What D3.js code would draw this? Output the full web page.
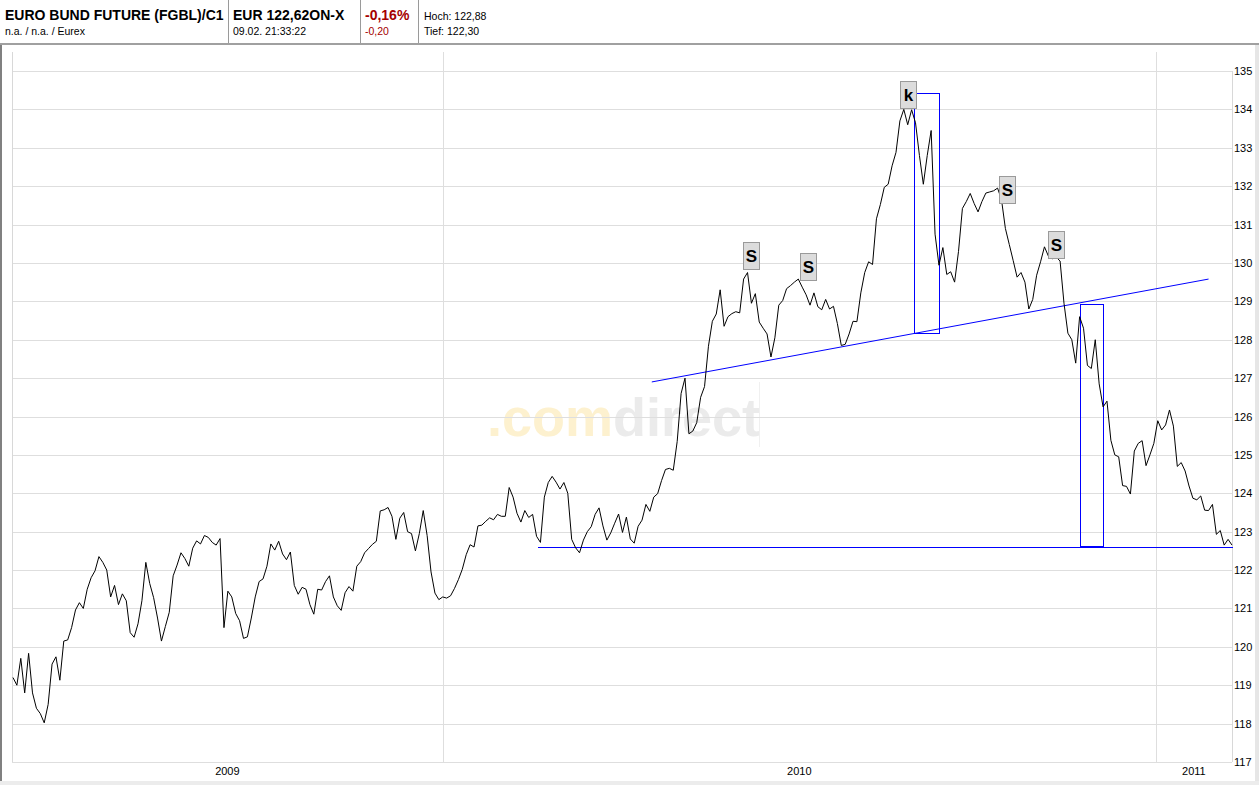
<!DOCTYPE html>
<html><head><meta charset="utf-8">
<script src="https://cdn.jsdelivr.net/npm/d3@7"></script>
<style>
body{margin:0;background:#fff;}
svg{display:block;font-family:"Liberation Sans",Arial,sans-serif;}
</style>
</head><body>
<svg id="c" width="1259" height="785"></svg>
<script>
// ---------------- DATA ----------------
const startDate = "2009-05-26T00:00Z";   // first sample
const stepDays = 2;                        // sampling interval of the series
const prices = [
119.2,119.0,119.7,118.8,119.83,118.8,118.4,118.26,118.02,118.5,
119.55,119.74,119.13,120.15,120.18,120.5,120.96,121.15,121.0,121.5,
121.8,121.98,122.35,122.2,122.0,121.3,121.6,121.1,121.38,121.2,
120.37,120.25,120.6,121.2,122.2,121.65,121.28,120.75,120.15,120.53,
120.9,121.85,122.13,122.45,122.3,122.1,122.57,122.76,122.68,122.9,
122.85,122.72,122.65,122.82,120.5,121.45,121.3,120.87,120.68,120.22,
120.26,120.75,121.3,121.7,121.77,122.1,122.68,122.52,122.75,122.42,
122.27,122.47,121.6,121.37,121.55,121.5,121.1,120.85,121.5,121.48,
121.7,121.85,121.3,121.07,120.95,121.41,121.57,121.45,122.1,122.22,
122.45,122.56,122.67,122.75,123.54,123.57,123.63,123.4,122.8,123.35,
123.5,123.0,122.95,122.5,122.95,123.55,122.9,121.95,121.4,121.23,
121.3,121.27,121.33,121.52,121.75,122.02,122.4,122.66,122.6,123.15,
123.17,123.27,123.36,123.31,123.45,123.4,123.4,124.15,123.9,123.48,
123.25,123.55,123.37,123.45,122.88,122.72,123.9,124.28,124.44,124.29,
124.11,124.28,124.0,122.8,122.58,122.45,122.78,123.0,123.13,123.45,
123.62,123.15,122.78,122.97,123.22,123.46,122.98,123.38,122.81,122.7,
123.14,123.3,123.71,123.53,123.9,123.99,124.33,124.62,124.65,124.6,
125.35,126.6,127.0,125.55,125.62,125.84,126.5,126.78,127.83,128.48,
128.67,129.3,128.35,128.6,128.68,128.73,128.7,129.58,129.75,128.95,
129.2,128.46,128.3,128.15,127.55,128.05,128.9,129.02,129.33,129.41,
129.5,129.58,129.37,129.17,128.9,129.22,128.86,128.78,129.05,128.8,
128.87,128.42,127.85,127.88,128.15,128.48,128.47,129.22,129.75,130.03,
129.96,131.15,131.52,131.97,132.05,132.53,132.88,133.7,134.0,133.6,
133.99,133.65,132.8,132.05,132.8,133.45,130.75,129.94,130.4,129.7,
129.77,129.5,130.3,131.42,131.6,131.81,131.55,131.33,131.6,131.82,
131.85,131.88,131.95,131.65,130.9,130.48,130.06,129.63,129.75,129.5,
128.8,129.05,129.68,130.03,130.42,130.18,130.11,130.15,130.05,128.95,
128.17,128.0,127.39,128.6,128.3,127.33,127.25,128.0,126.85,126.25,
126.4,125.38,125.0,124.95,124.2,124.18,123.98,125.1,125.3,125.37,
124.72,125.0,125.3,125.89,125.65,125.78,126.17,125.75,124.7,124.8,
124.58,124.19,123.87,123.83,123.93,123.56,123.55,123.71,122.93,123.03,
122.65,122.8,122.65
];
const xDomain = ["2009-05-25T12:00Z", "2011-02-09T00:00Z"];
const yDomain = [117, 135];
const yTicks = [117,118,119,120,121,122,123,124,125,126,127,128,129,130,131,132,133,134,135];
const yearLabels = ["2009", "2010", "2011"];
const yearBounds = ["2009-05-25T12:00Z", "2010-01-01T00:00Z", "2011-01-01T00:00Z", "2011-02-09T00:00Z"];

// chart annotations (trend lines, target boxes, markers)
const neckline = [["2010-04-18T00:00Z", 126.90], ["2011-01-28T00:00Z", 129.58]];
const supportLine = [["2010-02-19T00:00Z", 122.60], ["2011-02-09T00:00Z", 122.60]];
const targetBoxes = [
  ["2010-08-30T00:00Z", "2010-09-12T00:00Z", 128.17, 134.42],
  ["2010-11-23T00:00Z", "2010-12-05T00:00Z", 122.63, 128.93]
];
const markers = [
  ["S", "2010-06-08T00:00Z", 129.82],
  ["S", "2010-07-07T00:00Z", 129.54],
  ["k", "2010-08-27T00:00Z", 134.00],
  ["S", "2010-10-17T00:00Z", 131.54],
  ["S", "2010-11-11T00:00Z", 130.10]
];

// header texts
const title = "EURO BUND FUTURE (FGBL)/C1";
const subTitle = "n.a. / n.a. / Eurex";
const lastPrice = "EUR 122,62ON-X";
const timeStamp = "09.02. 21:33:22";
const changePct = "-0,16%";
const changeAbs = "-0,20";
const highText = "Hoch: 122,88";
const lowText = "Tief: 122,30";

// ---------------- DRAW ----------------
const W = 1259, H = 785;
const plot = {left: 12, right: 1232, top: 52, bottom: 762};
const svg = d3.select("#c");
const P = d3.isoParse;

const x = d3.scaleUtc().domain(xDomain.map(P)).range([plot.left, plot.right]);
const y = d3.scaleLinear().domain(yDomain).range([762, 71]);
const px = v => Math.round(v) + 0.5;

const series = prices.map((v, i) => ({date: d3.utcDay.offset(P(startDate), i * stepDays), value: v}));

svg.append("rect").attr("width", W).attr("height", H).attr("fill", "#fff");

// header
const hdr = svg.append("g");
hdr.append("text").attr("x", 5).attr("y", 20).attr("font-size", 14).attr("font-weight", "bold").attr("fill", "#000").text(title);
hdr.append("text").attr("x", 5).attr("y", 35).attr("font-size", 10.5).attr("fill", "#000").text(subTitle);
hdr.append("text").attr("x", 233).attr("y", 20).attr("font-size", 14).attr("font-weight", "bold").attr("fill", "#000").text(lastPrice);
hdr.append("text").attr("x", 233).attr("y", 35).attr("font-size", 10.5).attr("fill", "#000").text(timeStamp);
hdr.append("text").attr("x", 365).attr("y", 20).attr("font-size", 14).attr("font-weight", "bold").attr("fill", "#a50000").text(changePct);
hdr.append("text").attr("x", 365).attr("y", 35).attr("font-size", 10.5).attr("fill", "#a50000").text(changeAbs);
hdr.append("text").attr("x", 424).attr("y", 20).attr("font-size", 10.5).attr("fill", "#000").text(highText);
hdr.append("text").attr("x", 424).attr("y", 35).attr("font-size", 10.5).attr("fill", "#000").text(lowText);
[228, 360, 418].forEach(sx => hdr.append("rect").attr("x", sx).attr("y", 0).attr("width", 1).attr("height", 43).attr("fill", "#9a9a9a"));
svg.append("rect").attr("x", 0).attr("y", 43).attr("width", W).attr("height", 2).attr("fill", "#a0a0a0");

// panel frame
svg.append("rect").attr("x", 0).attr("y", 45).attr("width", 2).attr("height", H - 45).attr("fill", "#808080");
svg.append("rect").attr("x", 1255).attr("y", 45).attr("width", 4).attr("height", H - 45).attr("fill", "#e6e6e6");
svg.append("rect").attr("x", 0).attr("y", 781).attr("width", W).attr("height", 4).attr("fill", "#ececec");

// watermark
const wm = svg.append("text").attr("x", 487).attr("y", 436).attr("font-size", 54).attr("font-weight", "bold");
wm.append("tspan").attr("fill", "#fdf1cf").text(".com");
wm.append("tspan").attr("fill", "#ebebeb").text("direct");
svg.append("rect").attr("x", 759).attr("y", 382).attr("width", 1).attr("height", 65).attr("fill", "#f0f0f0");

// grid
const grid = svg.append("g");
grid.selectAll(".h").data(yTicks).join("line")
  .attr("x1", plot.left).attr("x2", plot.right)
  .attr("y1", d => px(y(d))).attr("y2", d => px(y(d)))
  .attr("stroke", "#dedede");
grid.selectAll(".v").data(yearBounds.slice(1, -1)).join("line")
  .attr("x1", d => px(x(P(d)))).attr("x2", d => px(x(P(d))))
  .attr("y1", plot.top).attr("y2", plot.bottom).attr("stroke", "#dedede");
grid.append("line").attr("x1", plot.left + 0.5).attr("x2", plot.left + 0.5).attr("y1", plot.top).attr("y2", plot.bottom).attr("stroke", "#d8d8d8");
grid.append("line").attr("x1", plot.right + 0.5).attr("x2", plot.right + 0.5).attr("y1", y(135)).attr("y2", plot.bottom).attr("stroke", "#d8d8d8");

// y axis labels (right)
const yAxis = d3.axisRight(y).tickValues(yTicks).tickSize(0).tickPadding(2).tickFormat(d3.format("d"));
const ya = svg.append("g").attr("transform", `translate(${plot.right},0)`).call(yAxis);
ya.select(".domain").remove();
ya.selectAll("text").attr("font-size", 11).attr("fill", "#000").attr("font-family", "'Liberation Sans', Arial, sans-serif");

// x year labels centred in each year span
svg.selectAll(".yl").data(yearLabels).join("text")
  .attr("x", (d, i) => (x(P(yearBounds[i])) + x(P(yearBounds[i + 1]))) / 2)
  .attr("y", 775).attr("text-anchor", "middle").attr("font-size", 11).attr("fill", "#000").text(d => d);

// annotations
const blue = "#0000ff";
const ann = svg.append("g");
ann.append("path")
  .attr("d", d3.line()([[x(P(neckline[0][0])), y(neckline[0][1])], [x(P(neckline[1][0])), y(neckline[1][1])]]))
  .attr("fill", "none").attr("stroke", blue).attr("stroke-width", 1);
// axis-aligned segments drawn as 1px filled bars (pixel exact)
function hBar(xa, xb, yy) {
  ann.append("rect").attr("x", Math.round(xa)).attr("y", Math.round(yy)).attr("width", Math.round(xb) - Math.round(xa) + 1).attr("height", 1).attr("fill", blue);
}
function vBar(xx, ya_, yb) {
  ann.append("rect").attr("x", Math.round(xx)).attr("y", Math.round(ya_)).attr("width", 1).attr("height", Math.round(yb) - Math.round(ya_) + 1).attr("fill", blue);
}
hBar(x(P(supportLine[0][0])), x(P(supportLine[1][0])), y(supportLine[0][1]));
targetBoxes.forEach(b => {
  const x0 = x(P(b[0])), x1 = x(P(b[1])), y0 = y(b[3]), y1 = y(b[2]);
  hBar(x0, x1, y0); hBar(x0, x1, y1); vBar(x0, y0, y1); vBar(x1, y0, y1);
});

// price line
const line = d3.line().x(d => x(d.date)).y(d => y(d.value));
svg.append("path").datum(series).attr("d", line).attr("fill", "none").attr("stroke", "#000").attr("stroke-width", 1);

// markers
const mk = svg.append("g").selectAll("g").data(markers).join("g")
  .attr("transform", d => `translate(${Math.round(x(P(d[1])))},${Math.round(y(d[2]))})`);
mk.append("rect").attr("x", -7.5).attr("y", -27.5).attr("width", 16).attr("height", 27)
  .attr("fill", "#dcdcdc").attr("stroke", "#9a9a9a");
mk.append("text").attr("x", 0.5).attr("y", -8).attr("text-anchor", "middle")
  .attr("font-size", 17).attr("font-weight", "bold").attr("fill", "#000").text(d => d[0]);
</script>
</body></html>
